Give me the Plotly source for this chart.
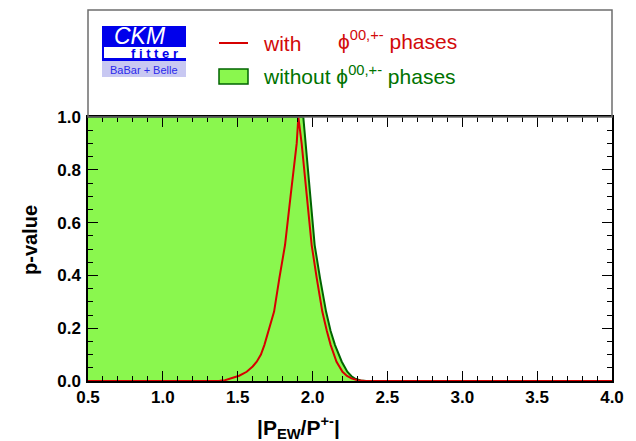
import plotly.graph_objects as go

# ---- data ----
green_x = [0.5, 1.0, 1.5, 1.90, 1.938, 1.976, 2.014, 2.05, 2.09, 2.12, 2.15, 2.195, 2.232, 2.26, 2.28, 2.32, 2.36, 4.0]
green_p = [1.0, 1.0, 1.0, 1.0, 1.0, 0.757, 0.515, 0.389, 0.263, 0.19, 0.136, 0.073, 0.035, 0.018, 0.010, 0.002, 0.0, 0.0]

red_x = [0.5, 1.30, 1.38, 1.415, 1.46, 1.51, 1.56, 1.60, 1.627, 1.655, 1.678, 1.71, 1.743, 1.778, 1.816,
         1.855, 1.894, 1.905, 1.927, 1.96, 1.994, 2.028, 2.065, 2.095, 2.121, 2.16, 2.20, 2.23, 2.26, 2.30, 2.35, 4.0]
red_p = [0.0, 0.0, 0.001, 0.003, 0.010, 0.020, 0.035, 0.055, 0.073, 0.10, 0.136, 0.195, 0.263, 0.389, 0.515,
         0.71, 0.90, 1.0, 0.90, 0.71, 0.515, 0.389, 0.263, 0.19, 0.136, 0.073, 0.035, 0.019, 0.010, 0.003, 0.0, 0.0]

x_ticks = [0.5, 1.0, 1.5, 2.0, 2.5, 3.0, 3.5, 4.0]
y_ticks = [0.0, 0.2, 0.4, 0.6, 0.8, 1.0]

# ---- layout helpers (pixel -> paper) ----
W, H = 636, 441
L, R, T, B = 88, 24, 117, 60
PW, PH = W - L - R, H - T - B


def px(x):
    return (x - L) / PW


def py(y):
    return (H - B - y) / PH


FILL = "rgb(138,247,78)"
DKGREEN = "rgb(0,100,0)"
RED = "rgb(214,0,0)"
TXTRED = "rgb(210,10,10)"
TXTGREEN = "rgb(0,115,0)"
BLUE = "rgb(0,0,235)"

fig = go.Figure()
fig.add_trace(go.Scatter(x=green_x, y=green_p, mode="lines", fill="tozeroy",
                         fillcolor=FILL, line=dict(color=DKGREEN, width=2),
                         showlegend=False, hoverinfo="skip"))
fig.add_trace(go.Scatter(x=red_x, y=red_p, mode="lines",
                         line=dict(color=RED, width=2),
                         showlegend=False, hoverinfo="skip"))

tickfont = dict(family="Liberation Sans", size=17, weight="bold", color="black")
fig.update_xaxes(range=[0.5, 4.0], tickvals=x_ticks, ticktext=[f"{v:.1f}" for v in x_ticks],
                 ticks="inside", ticklen=10, tickwidth=1, tickcolor="black",
                 minor=dict(dtick=0.1, ticks="inside", ticklen=5, tickcolor="black"),
                 showline=True, linecolor="black", linewidth=1.5, mirror="ticks",
                 showgrid=False, zeroline=False, tickfont=tickfont, ticklabelstandoff=0)
fig.update_yaxes(range=[0.0, 1.0], tickvals=y_ticks, ticktext=[f"{v:.1f}" for v in y_ticks],
                 ticks="inside", ticklen=10, tickwidth=1, tickcolor="black",
                 minor=dict(dtick=0.05, ticks="inside", ticklen=5, tickcolor="black"),
                 showline=True, linecolor="black", linewidth=1.5, mirror="ticks",
                 showgrid=False, zeroline=False, tickfont=tickfont, ticklabelstandoff=2)

shapes = [
    # legend box frame above the plot
    dict(type="rect", xref="paper", yref="paper", x0=px(88), x1=px(612), y0=py(117), y1=py(10),
         line=dict(color="rgb(110,110,110)", width=1.5), fillcolor="rgba(0,0,0,0)", layer="above"),
    # CKMfitter logo
    dict(type="rect", xref="paper", yref="paper", x0=px(102), x1=px(186), y0=py(61), y1=py(26),
         line=dict(width=0), fillcolor=BLUE),
    dict(type="rect", xref="paper", yref="paper", x0=px(104), x1=px(186), y0=py(58), y1=py(47),
         line=dict(width=0), fillcolor="white"),
    dict(type="rect", xref="paper", yref="paper", x0=px(102), x1=px(186), y0=py(77), y1=py(61),
         line=dict(width=0), fillcolor="rgb(200,200,242)"),
    # legend symbols
    dict(type="line", xref="paper", yref="paper", x0=px(219), x1=px(248), y0=py(43), y1=py(43),
         line=dict(color=RED, width=2)),
    dict(type="rect", xref="paper", yref="paper", x0=px(219), x1=px(248), y0=py(84), y1=py(69),
         line=dict(color=DKGREEN, width=1.5), fillcolor=FILL),
]

ann = []


def text(x, y, s, size, color, xanchor="left", family="Liberation Sans", weight="normal",
         style="normal", angle=0, yanchor="middle"):
    ann.append(dict(x=px(x), y=py(y), xref="paper", yref="paper", text=s, showarrow=False,
                    xanchor=xanchor, yanchor=yanchor, textangle=angle,
                    font=dict(family=family, size=size, color=color, weight=weight, style=style)))


text(140, 36, "CKM", 23, "white", xanchor="center", style="italic")
text(180, 53, "f i t t e r", 13, BLUE, xanchor="right", weight="bold")
text(144, 70, "BaBar + Belle", 11, "rgb(40,40,235)", xanchor="center")

text(261, 43, "with", 21, TXTRED)
text(336, 40, "ϕ<sup>00,+-</sup> phases", 21, TXTRED)
text(261, 75, "without ϕ<sup>00,+-</sup> phases", 21, TXTGREEN)

# axis titles
text(30, 240, "p-value", 20, "black", xanchor="center", weight="bold", angle=-90)
ann.append(dict(x=px(255), y=py(411), xref="paper", yref="paper",
                text="|P<sub>EW</sub>/P<sup>+-</sup>|", showarrow=False,
                xanchor="left", yanchor="top",
                font=dict(family="Liberation Sans", size=21, color="black", weight="bold")))

fig.update_layout(width=W, height=H, margin=dict(l=L, r=R, t=T, b=B),
                  paper_bgcolor="white", plot_bgcolor="white",
                  shapes=shapes, annotations=ann, showlegend=False)

fig.write_html("out.html")
